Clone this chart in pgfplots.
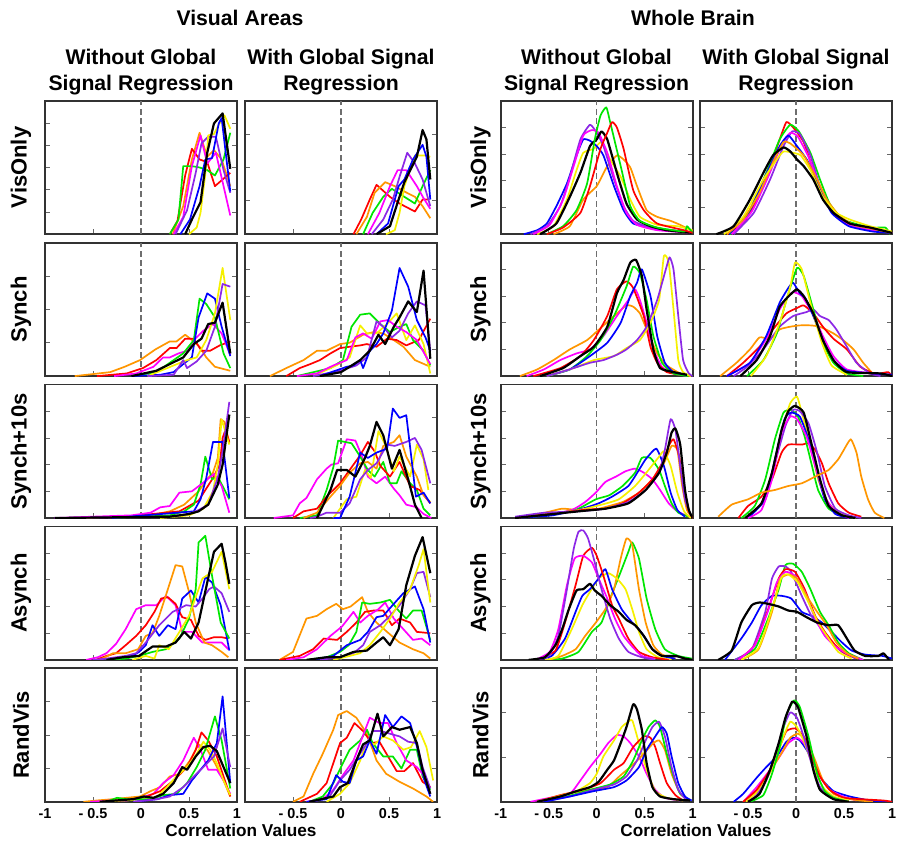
\documentclass[border=0pt]{standalone}
\usepackage{pgfplots}
\pgfplotsset{compat=1.18}
\usepackage{fontspec}
\setmainfont{Liberation Sans}
\definecolor{cR}{RGB}{255,0,0}
\definecolor{cO}{RGB}{255,150,0}
\definecolor{cY}{RGB}{245,240,0}
\definecolor{cG}{RGB}{0,230,0}
\definecolor{cB}{RGB}{0,0,255}
\definecolor{cM}{RGB}{255,0,255}
\definecolor{cP}{RGB}{140,40,230}
\definecolor{cD}{RGB}{110,110,110}
\pgfplotsset{
  panel/.style={scale only axis, width=96pt, height=66.75pt, anchor=north west,
    xmin=-1, xmax=1, ymin=0, ymax=1,
    axis line style={line width=0.9pt, draw=black!80},
    xtick={-0.5,0,0.5}, xticklabels={}, yticklabels={},
    tick align=inside, xtick pos=left, ytick pos=both,
    major tick length=2.5pt, tick style={line width=0.4pt, black!60},
    every axis plot/.append style={line width=0.85pt, line join=round, mark=none},
    execute at begin axis={\addplot[cD, dash pattern=on 3pt off 1.6pt, line width=0.65pt, sharp plot] coordinates {(0,0) (0,1)};}},
  wb/.style={every axis plot/.append style={smooth, tension=0.3}},
  bottomA/.style={xtick={-1,-0.5,0,0.5,1}, xticklabels={-1,- 0.5,0,0.5,1},
    xticklabel style={font=\fontsize{7.2}{8}\selectfont\bfseries}},
  bottomB/.style={xtick={-1,-0.5,0,0.5,1}, xticklabels={,- 0.5,0,0.5,1},
    xticklabel style={font=\fontsize{7.2}{8}\selectfont\bfseries}},
  yq/.style={ytick={0.25,0.5,0.75}},
  yf/.style={ytick={0.2,0.4,0.6,0.8}},
  ys/.style={ytick={0.1667,0.3333,0.5,0.6667,0.8333}},
  yt/.style={ytick={0.3333,0.6667}},
  K/.style={black, line width=1.1pt},
}
\begin{document}
\begin{tikzpicture}
\useasboundingbox (0pt,0pt) rectangle (449.5pt,-424pt);
\tikzset{hd/.style={font=\fontsize{10.6}{12}\selectfont\bfseries, anchor=base}}
\node[hd] at (120pt,-12.5pt) {Visual Areas};
\node[hd] at (346.5pt,-12.5pt) {Whole Brain};
\node[hd] at (70.5pt,-32.15pt) {Without Global};
\node[hd] at (70.5pt,-45.35pt) {Signal Regression};
\node[hd] at (170.5pt,-32.15pt) {With Global Signal};
\node[hd] at (170.5pt,-45.35pt) {Regression};
\node[hd] at (298.25pt,-32.15pt) {Without Global};
\node[hd] at (298.25pt,-45.35pt) {Signal Regression};
\node[hd] at (398pt,-32.15pt) {With Global Signal};
\node[hd] at (398pt,-45.35pt) {Regression};
\foreach \t/\yy in {VisOnly/83.73, Synch/154.68, Synch+10s/225.63, Asynch/296.58, RandVis/367.53}{
  \node[rotate=90, font=\fontsize{11}{13}\selectfont\bfseries] at (10.5pt,-\yy pt) {\t};
  \node[rotate=90, font=\fontsize{11}{13}\selectfont\bfseries] at (240.25pt,-\yy pt) {\t};
}
\node[font=\fontsize{8.6}{10}\selectfont\bfseries, anchor=base] at (120.5pt,-418.3pt) {Correlation Values};
\node[font=\fontsize{8.6}{10}\selectfont\bfseries, anchor=base] at (348pt,-418.3pt) {Correlation Values};

% ---------------- Row 1: VisOnly ----------------
\begin{axis}[panel, ys, at={(22.5pt,-50.35pt)}]
\addplot[cO] coordinates {(0.33,0) (0.44,0.21) (0.53,0.56) (0.61,0.76) (0.69,0.58) (0.76,0.63) (0.84,0.56) (0.93,0.36)};
\addplot[cR] coordinates {(0.30,0) (0.38,0.10) (0.46,0.44) (0.53,0.64) (0.61,0.56) (0.69,0.54) (0.77,0.36) (0.93,0.46)};
\addplot[cG] coordinates {(0.30,0) (0.39,0.11) (0.44,0.51) (0.53,0.51) (0.61,0.50) (0.69,0.48) (0.77,0.44) (0.86,0.56) (0.93,0.76)};
\addplot[cM] coordinates {(0.34,0) (0.44,0.13) (0.53,0.51) (0.62,0.74) (0.69,0.53) (0.78,0.61) (0.86,0.36) (0.93,0.14)};
\addplot[cP] coordinates {(0.36,0) (0.48,0.18) (0.57,0.46) (0.63,0.68) (0.70,0.73) (0.78,0.73) (0.86,0.48) (0.93,0.31)};
\addplot[cY] coordinates {(0.50,0) (0.58,0.05) (0.62,0.16) (0.67,0.45) (0.70,0.74) (0.76,0.75) (0.81,0.82) (0.87,0.89) (0.93,0.79)};
\addplot[cB] coordinates {(0.41,0) (0.51,0.11) (0.61,0.36) (0.67,0.56) (0.74,0.57) (0.81,0.83) (0.84,0.87) (0.93,0.32)};
\addplot[K] coordinates {(0.46,0) (0.53,0.11) (0.62,0.24) (0.69,0.61) (0.76,0.83) (0.85,0.905) (0.93,0.49)};
\end{axis}
\begin{axis}[panel, yq, at={(122.5pt,-50.35pt)}]
\addplot[cR] coordinates {(0.13,0) (0.21,0.11) (0.30,0.26) (0.37,0.37) (0.51,0.28) (0.61,0.23) (0.77,0.17) (0.85,0.26) (0.92,0.26)};
\addplot[cO] coordinates {(0.16,0) (0.27,0.13) (0.35,0.31) (0.46,0.39) (0.56,0.36) (0.66,0.32) (0.77,0.28) (0.85,0.21) (0.93,0.12)};
\addplot[cG] coordinates {(0.23,0) (0.33,0.16) (0.44,0.28) (0.53,0.34) (0.66,0.28) (0.77,0.23) (0.85,0.36) (0.93,0.48)};
\addplot[cM] coordinates {(0.28,0) (0.40,0.16) (0.51,0.36) (0.59,0.48) (0.68,0.48) (0.79,0.36) (0.86,0.27) (0.93,0.19)};
\addplot[cP] coordinates {(0.32,0) (0.44,0.11) (0.54,0.26) (0.61,0.43) (0.69,0.61) (0.77,0.53) (0.85,0.41) (0.93,0.21)};
\addplot[cY] coordinates {(0.47,0) (0.56,0.03) (0.61,0.16) (0.66,0.36) (0.77,0.59) (0.87,0.59) (0.93,0.58)};
\addplot[cB] coordinates {(0.37,0) (0.49,0.08) (0.60,0.36) (0.66,0.41) (0.75,0.56) (0.85,0.67) (0.89,0.58) (0.93,0.26)};
\addplot[K] coordinates {(0.37,0) (0.51,0.06) (0.60,0.26) (0.66,0.39) (0.79,0.58) (0.85,0.78) (0.89,0.71) (0.93,0.41)};
\end{axis}
\begin{axis}[panel, wb, yf, at={(250.35pt,-50.35pt)}]
\addplot[cO] coordinates {(-0.45,0) (-0.28,0.06) (-0.14,0.26) (0,0.36) (0.11,0.51) (0.21,0.59) (0.28,0.56) (0.35,0.50) (0.42,0.36) (0.52,0.18) (0.63,0.13) (0.77,0.10) (0.87,0.07) (0.98,0.03) (1,0.01)};
\addplot[cY] coordinates {(-0.62,0) (-0.45,0.06) (-0.31,0.26) (-0.21,0.48) (-0.14,0.61) (-0.03,0.64) (0.05,0.69) (0.14,0.56) (0.25,0.43) (0.35,0.26) (0.45,0.13) (0.63,0.07) (0.84,0.06) (1,0.03)};
\addplot[cB] coordinates {(-0.76,0) (-0.62,0.03) (-0.52,0.08) (-0.42,0.21) (-0.31,0.38) (-0.21,0.59) (-0.14,0.71) (-0.07,0.70) (0,0.66) (0.07,0.59) (0.18,0.36) (0.28,0.18) (0.38,0.08) (0.56,0.05) (0.73,0.03) (0.91,0.02) (1,0.01)};
\addplot[cP] coordinates {(-0.69,0) (-0.52,0.06) (-0.38,0.21) (-0.28,0.43) (-0.17,0.71) (-0.07,0.82) (0,0.76) (0.07,0.66) (0.18,0.41) (0.28,0.21) (0.38,0.10) (0.56,0.05) (0.91,0.02) (1,0.01)};
\addplot[cM] coordinates {(-0.66,0) (-0.49,0.07) (-0.35,0.26) (-0.24,0.51) (-0.14,0.74) (-0.05,0.78) (0.02,0.76) (0.11,0.61) (0.21,0.36) (0.31,0.16) (0.42,0.07) (0.63,0.03) (1,0.01)};
\addplot[K] coordinates {(-0.59,0) (-0.42,0.08) (-0.28,0.28) (-0.17,0.46) (-0.07,0.66) (0,0.71) (0.05,0.77) (0.11,0.71) (0.21,0.46) (0.31,0.23) (0.42,0.11) (0.56,0.06) (0.73,0.03) (1,0.01)};
\addplot[cG] coordinates {(-0.52,0) (-0.35,0.06) (-0.21,0.18) (-0.10,0.38) (-0.02,0.71) (0.04,0.89) (0.10,0.95) (0.14,0.84) (0.25,0.51) (0.35,0.21) (0.45,0.10) (0.63,0.05) (0.91,0.02) (0.94,0.06) (1,0.01)};
\addplot[cR] coordinates {(-0.52,0) (-0.35,0.05) (-0.17,0.16) (-0.07,0.36) (0.04,0.64) (0.11,0.76) (0.16,0.84) (0.21,0.80) (0.28,0.64) (0.38,0.33) (0.49,0.18) (0.63,0.08) (0.91,0.03) (1,0.01)};
\end{axis}
\begin{axis}[panel, wb, yf, at={(350pt,-50.35pt)}]
\addplot[cR] coordinates {(-0.72,0) (-0.55,0.08) (-0.41,0.26) (-0.27,0.51) (-0.17,0.71) (-0.10,0.84) (-0.03,0.80) (0.08,0.69) (0.18,0.48) (0.28,0.28) (0.39,0.16) (0.56,0.08) (0.77,0.04) (0.91,0.03) (1,0.01)};
\addplot[cG] coordinates {(-0.69,0) (-0.58,0.06) (-0.48,0.18) (-0.31,0.46) (-0.17,0.71) (-0.06,0.82) (0.03,0.77) (0.15,0.61) (0.25,0.41) (0.35,0.23) (0.49,0.11) (0.77,0.05) (0.93,0.05) (0.98,0)};
\addplot[cP] coordinates {(-0.65,0) (-0.44,0.16) (-0.27,0.41) (-0.13,0.66) (-0.04,0.77) (0.04,0.75) (0.15,0.59) (0.25,0.36) (0.39,0.17) (0.56,0.07) (0.8,0.03) (1,0.01)};
\addplot[cM] coordinates {(-0.67,0) (-0.46,0.17) (-0.29,0.43) (-0.15,0.67) (-0.06,0.76) (0.02,0.73) (0.13,0.58) (0.24,0.37) (0.37,0.17) (0.55,0.07) (0.8,0.03) (1,0.01)};
\addplot[cB] coordinates {(-0.70,0) (-0.48,0.18) (-0.31,0.45) (-0.17,0.66) (-0.08,0.74) (0.01,0.66) (0.12,0.55) (0.24,0.35) (0.37,0.16) (0.55,0.06) (0.8,0.02) (1,0.01)};
\addplot[cO] coordinates {(-0.72,0) (-0.55,0.11) (-0.38,0.31) (-0.24,0.54) (-0.13,0.69) (-0.06,0.68) (0.08,0.59) (0.22,0.41) (0.32,0.26) (0.45,0.14) (0.6,0.07) (0.8,0.04) (1,0.01)};
\addplot[cY] coordinates {(-0.75,0) (-0.55,0.13) (-0.34,0.41) (-0.20,0.56) (-0.13,0.62) (-0.03,0.61) (0.05,0.59) (0.15,0.48) (0.28,0.28) (0.42,0.16) (0.56,0.11) (0.77,0.06) (1,0.02)};
\addplot[K] coordinates {(-0.83,0) (-0.65,0.06) (-0.48,0.26) (-0.34,0.46) (-0.24,0.59) (-0.13,0.65) (-0.06,0.62) (0.01,0.56) (0.08,0.51) (0.18,0.41) (0.28,0.26) (0.39,0.16) (0.56,0.08) (0.77,0.05) (1,0.01)};
\end{axis}

% ---------------- Row 2: Synch ----------------
\begin{axis}[panel, yq, at={(22.5pt,-121.3pt)}]
\addplot[cO] coordinates {(-0.69,0) (-0.32,0.03) (-0.17,0.07) (-0.01,0.12) (0.15,0.20) (0.30,0.26) (0.37,0.26) (0.46,0.31) (0.55,0.26) (0.61,0.22) (0.68,0.14) (0.77,0.07) (0.93,0.04)};
\addplot[cR] coordinates {(-0.46,0) (-0.15,0.02) (0.02,0.06) (0.16,0.12) (0.30,0.21) (0.37,0.21) (0.46,0.28) (0.55,0.28) (0.63,0.19) (0.72,0.19) (0.82,0.23) (0.93,0.26)};
\addplot[cM] coordinates {(-0.28,0) (-0.05,0.02) (0.13,0.07) (0.23,0.14) (0.30,0.14) (0.39,0.17) (0.48,0.19) (0.55,0.27) (0.65,0.34) (0.75,0.39) (0.84,0.32) (0.93,0.16)};
\addplot[cG] coordinates {(-0.1,0) (0.16,0.03) (0.34,0.12) (0.44,0.17) (0.55,0.27) (0.61,0.58) (0.68,0.54) (0.77,0.44) (0.86,0.17) (0.93,0.06)};
\addplot[cB] coordinates {(-0.1,0) (0.20,0.01) (0.34,0.03) (0.44,0.09) (0.53,0.14) (0.60,0.44) (0.69,0.62) (0.77,0.58) (0.84,0.37) (0.93,0.15)};
\addplot[cY] coordinates {(0.07,0) (0.34,0.08) (0.48,0.12) (0.58,0.14) (0.68,0.27) (0.77,0.47) (0.85,0.81) (0.93,0.42)};
\addplot[cP] coordinates {(0.07,0) (0.34,0.01) (0.44,0.12) (0.48,0.06) (0.58,0.11) (0.68,0.19) (0.77,0.37) (0.85,0.69) (0.93,0.67)};
\addplot[K] coordinates {(-0.1,0) (0.16,0.04) (0.30,0.09) (0.44,0.14) (0.55,0.24) (0.63,0.28) (0.70,0.39) (0.77,0.40) (0.85,0.55) (0.93,0.17)};
\end{axis}
\begin{axis}[panel, yf, at={(122.5pt,-121.3pt)}]
\addplot[cO] coordinates {(-0.74,0) (-0.57,0.06) (-0.39,0.12) (-0.25,0.19) (-0.15,0.19) (-0.01,0.24) (0.09,0.25) (0.23,0.31) (0.34,0.33) (0.44,0.32) (0.55,0.27) (0.65,0.22) (0.77,0.12) (0.93,0.07)};
\addplot[cR] coordinates {(-0.57,0) (-0.43,0.06) (-0.32,0.09) (-0.22,0.12) (-0.11,0.17) (-0.01,0.21) (0.09,0.22) (0.20,0.23) (0.27,0.24) (0.37,0.22) (0.48,0.28) (0.58,0.27) (0.68,0.23) (0.81,0.27) (0.93,0.43)};
\addplot[cG] coordinates {(-0.46,0) (-0.11,0.06) (0.02,0.12) (0.11,0.37) (0.20,0.46) (0.30,0.47) (0.41,0.39) (0.51,0.33) (0.61,0.37) (0.68,0.39) (0.75,0.27) (0.86,0.19) (0.93,0.08)};
\addplot[cY] coordinates {(-0.29,0) (-0.05,0.08) (0.09,0.14) (0.20,0.38) (0.27,0.32) (0.37,0.32) (0.48,0.39) (0.58,0.47) (0.68,0.27) (0.77,0.38) (0.86,0.24) (0.93,0.02)};
\addplot[cM] coordinates {(-0.46,0) (-0.25,0.02) (-0.08,0.08) (0.06,0.12) (0.15,0.29) (0.23,0.32) (0.32,0.28) (0.41,0.41) (0.49,0.42) (0.58,0.37) (0.68,0.33) (0.79,0.27) (0.93,0.09)};
\addplot[cP] coordinates {(-0.29,0) (-0.01,0.04) (0.16,0.08) (0.27,0.14) (0.37,0.41) (0.44,0.37) (0.53,0.29) (0.61,0.34) (0.70,0.47) (0.79,0.56) (0.88,0.53) (0.93,0.19)};
\addplot[cB] coordinates {(-0.22,0) (0.06,0.07) (0.13,0.08) (0.20,0.12) (0.23,0.06) (0.30,0.19) (0.37,0.24) (0.44,0.32) (0.53,0.49) (0.61,0.81) (0.70,0.67) (0.79,0.42) (0.88,0.29) (0.93,0.19)};
\addplot[K] coordinates {(-0.22,0) (0,0.03) (0.09,0.07) (0.20,0.12) (0.30,0.19) (0.39,0.31) (0.46,0.24) (0.55,0.37) (0.61,0.44) (0.70,0.56) (0.79,0.48) (0.86,0.79) (0.93,0.13)};
\end{axis}
\begin{axis}[panel, wb, yf, at={(250.35pt,-121.3pt)}]
\addplot[cO] coordinates {(-0.80,0) (-0.62,0.05) (-0.45,0.12) (-0.28,0.20) (-0.10,0.27) (0.04,0.36) (0.18,0.45) (0.31,0.53) (0.38,0.52) (0.45,0.47) (0.52,0.35) (0.63,0.17) (0.73,0.08) (0.87,0.02) (0.98,0)};
\addplot[cM] coordinates {(-0.73,0) (-0.55,0.05) (-0.38,0.12) (-0.21,0.17) (-0.07,0.20) (0.07,0.30) (0.21,0.45) (0.33,0.57) (0.40,0.65) (0.45,0.57) (0.52,0.40) (0.59,0.20) (0.68,0.07) (0.80,0.02) (0.95,0)};
\addplot[cR] coordinates {(-0.66,0) (-0.38,0.06) (-0.17,0.15) (-0.03,0.27) (0.11,0.45) (0.21,0.65) (0.31,0.71) (0.38,0.66) (0.49,0.45) (0.56,0.22) (0.63,0.10) (0.73,0.03) (0.87,0.01)};
\addplot[cG] coordinates {(-0.52,0) (-0.28,0.05) (-0.10,0.15) (0.04,0.27) (0.18,0.45) (0.31,0.67) (0.38,0.82) (0.45,0.77) (0.52,0.57) (0.59,0.30) (0.68,0.10) (0.80,0.02) (0.95,0)};
\addplot[cB] coordinates {(-0.52,0) (-0.28,0.05) (-0.07,0.15) (0.11,0.25) (0.25,0.40) (0.35,0.60) (0.42,0.70) (0.47,0.80) (0.56,0.60) (0.63,0.30) (0.71,0.10) (0.80,0.03) (0.94,0.01)};
\addplot[cY] coordinates {(-0.52,0) (-0.24,0.06) (-0.03,0.12) (0.18,0.15) (0.31,0.21) (0.45,0.27) (0.56,0.40) (0.65,0.57) (0.70,0.90) (0.75,0.85) (0.80,0.50) (0.85,0.12) (0.90,0.03) (0.98,0)};
\addplot[cP] coordinates {(-0.52,0) (-0.24,0.06) (-0.07,0.10) (0.07,0.12) (0.21,0.16) (0.31,0.20) (0.42,0.27) (0.52,0.37) (0.63,0.57) (0.72,0.80) (0.76,0.89) (0.80,0.80) (0.85,0.45) (0.90,0.12) (0.96,0.02) (1,0)};
\addplot[K] coordinates {(-0.59,0) (-0.35,0.06) (-0.17,0.15) (-0.03,0.22) (0.11,0.37) (0.21,0.62) (0.28,0.72) (0.35,0.85) (0.41,0.87) (0.47,0.75) (0.52,0.50) (0.59,0.20) (0.66,0.06) (0.80,0.03) (0.94,0.01)};
\end{axis}
\begin{axis}[panel, wb, yf, at={(350pt,-121.3pt)}]
\addplot[cO] coordinates {(-0.79,0) (-0.62,0.10) (-0.48,0.20) (-0.38,0.29) (-0.27,0.28) (-0.17,0.35) (-0.06,0.37) (0.04,0.38) (0.15,0.38) (0.25,0.37) (0.39,0.32) (0.49,0.27) (0.60,0.20) (0.70,0.10) (0.81,0.01)};
\addplot[cR] coordinates {(-0.72,0) (-0.55,0.10) (-0.38,0.22) (-0.24,0.35) (-0.10,0.47) (0.01,0.51) (0.08,0.53) (0.18,0.47) (0.28,0.37) (0.39,0.28) (0.53,0.20) (0.67,0.07) (0.81,0.02) (0.88,0.02) (0.96,0.03) (1,0)};
\addplot[cP] coordinates {(-0.65,0) (-0.51,0.07) (-0.34,0.20) (-0.17,0.37) (-0.03,0.45) (0.11,0.48) (0.18,0.50) (0.25,0.45) (0.34,0.42) (0.42,0.35) (0.53,0.22) (0.63,0.10) (0.77,0.02) (0.88,0)};
\addplot[cM] coordinates {(-0.72,0) (-0.48,0.10) (-0.31,0.28) (-0.17,0.50) (-0.08,0.60) (-0.03,0.63) (0.06,0.60) (0.18,0.46) (0.28,0.30) (0.39,0.15) (0.53,0.05) (0.8,0.02) (1,0.01)};
\addplot[cB] coordinates {(-0.72,0) (-0.48,0.10) (-0.31,0.30) (-0.17,0.55) (-0.08,0.66) (-0.03,0.70) (0.04,0.62) (0.10,0.58) (0.18,0.45) (0.28,0.27) (0.39,0.12) (0.53,0.04) (0.8,0.02) (1,0.01)};
\addplot[cG] coordinates {(-0.51,0) (-0.34,0.12) (-0.20,0.32) (-0.10,0.57) (0.01,0.81) (0.08,0.75) (0.18,0.50) (0.28,0.25) (0.39,0.10) (0.53,0.02) (0.7,0)};
\addplot[cY] coordinates {(-0.47,0) (-0.31,0.15) (-0.17,0.40) (-0.06,0.67) (-0.01,0.85) (0.06,0.80) (0.16,0.52) (0.27,0.25) (0.37,0.08) (0.53,0.01)};
\addplot[K] coordinates {(-0.58,0) (-0.41,0.12) (-0.27,0.30) (-0.17,0.52) (-0.06,0.61) (0.01,0.65) (0.08,0.60) (0.18,0.47) (0.28,0.27) (0.39,0.12) (0.53,0.03) (0.88,0.02) (1,0)};
\end{axis}

% ---------------- Row 3: Synch+10s ----------------
\begin{axis}[panel, yf, at={(22.5pt,-192.25pt)}]
\addplot[cO] coordinates {(-0.6,0) (0.1,0.02) (0.3,0.05) (0.45,0.10) (0.6,0.20) (0.7,0.30) (0.75,0.34) (0.80,0.45) (0.83,0.74) (0.87,0.72) (0.92,0.56)};
\addplot[cR] coordinates {(-0.3,0) (0.4,0.05) (0.6,0.13) (0.75,0.30) (0.82,0.40) (0.85,0.60) (0.88,0.66) (0.92,0.57)};
\addplot[cG] coordinates {(-0.3,0) (0.3,0.02) (0.45,0.05) (0.55,0.10) (0.62,0.25) (0.67,0.46) (0.74,0.29) (0.80,0.31) (0.92,0.14)};
\addplot[cM] coordinates {(-0.9,0) (-0.1,0.02) (0.1,0.04) (0.2,0.08) (0.3,0.09) (0.40,0.19) (0.53,0.20) (0.64,0.26) (0.76,0.33) (0.84,0.24) (0.92,0.04)};
\addplot[cY] coordinates {(0.2,0) (0.5,0.02) (0.65,0.07) (0.75,0.20) (0.80,0.40) (0.84,0.74) (0.92,0.55)};
\addplot[cB] coordinates {(-0.3,0) (0.55,0.05) (0.62,0.14) (0.68,0.30) (0.75,0.57) (0.85,0.57) (0.92,0.15)};
\addplot[cP] coordinates {(-0.9,0) (0.3,0.01) (0.5,0.03) (0.6,0.06) (0.7,0.10) (0.75,0.2) (0.8,0.3) (0.85,0.5) (0.92,0.87)};
\addplot[K] coordinates {(-0.9,0) (0.3,0.01) (0.5,0.03) (0.6,0.05) (0.7,0.10) (0.8,0.25) (0.85,0.4) (0.92,0.775)};
\end{axis}
\begin{axis}[panel, yq, at={(122.5pt,-192.25pt)}]
\addplot[cM] coordinates {(-0.70,0) (-0.50,0.02) (-0.43,0.11) (-0.36,0.15) (-0.25,0.29) (-0.15,0.37) (-0.10,0.40) (-0.03,0.41) (0.06,0.59) (0.15,0.58) (0.22,0.46) (0.28,0.31) (0.37,0.26) (0.46,0.31) (0.55,0.22) (0.61,0.17) (0.68,0.10) (0.79,0.08) (0.86,0.03) (0.94,0)};
\addplot[cG] coordinates {(-0.43,0) (-0.25,0.02) (-0.15,0.21) (-0.08,0.38) (-0.03,0.58) (0.04,0.57) (0.11,0.56) (0.20,0.46) (0.28,0.36) (0.35,0.31) (0.44,0.42) (0.51,0.26) (0.58,0.26) (0.63,0.35) (0.72,0.26) (0.79,0.21) (0.86,0.07) (0.93,0.02)};
\addplot[cR] coordinates {(-0.50,0) (-0.39,0.05) (-0.25,0.07) (-0.15,0.16) (-0.01,0.26) (0.09,0.36) (0.20,0.47) (0.28,0.57) (0.35,0.50) (0.41,0.39) (0.51,0.31) (0.61,0.42) (0.72,0.24) (0.82,0.21) (0.93,0.11)};
\addplot[cO] coordinates {(-0.39,0) (-0.25,0.04) (-0.11,0.16) (-0.01,0.24) (0.09,0.34) (0.20,0.41) (0.28,0.42) (0.37,0.37) (0.44,0.54) (0.55,0.57) (0.61,0.62) (0.68,0.46) (0.79,0.31) (0.86,0.17) (0.93,0.12)};
\addplot[cY] coordinates {(-0.08,0) (0.06,0.14) (0.16,0.16) (0.25,0.36) (0.31,0.30) (0.39,0.65) (0.46,0.55) (0.55,0.35) (0.61,0.46) (0.72,0.31) (0.79,0.55) (0.86,0.44) (0.91,0.21)};
\addplot[cP] coordinates {(-0.32,0) (-0.25,0.01) (-0.15,0.04) (-0.01,0.04) (0.09,0.11) (0.20,0.29) (0.28,0.36) (0.37,0.41) (0.48,0.55) (0.56,0.54) (0.68,0.57) (0.77,0.60) (0.84,0.51) (0.93,0.26)};
\addplot[cB] coordinates {(-0.08,0) (-0.01,0) (0.09,0.16) (0.20,0.49) (0.28,0.45) (0.37,0.49) (0.48,0.52) (0.54,0.82) (0.61,0.75) (0.68,0.77) (0.74,0.41) (0.78,0.16) (0.86,0.19) (0.93,0.11)};
\addplot[K] coordinates {(-0.25,0) (-0.11,0.21) (-0.04,0.36) (0.06,0.36) (0.15,0.31) (0.25,0.45) (0.30,0.54) (0.37,0.72) (0.44,0.62) (0.53,0.37) (0.61,0.51) (0.70,0.29) (0.77,0.10) (0.84,0)};
\end{axis}
\begin{axis}[panel, wb, yf, at={(250.35pt,-192.25pt)}]
\addplot[cO] coordinates {(-0.85,0) (-0.54,0.04) (-0.36,0.07) (-0.19,0.06) (0.02,0.07) (0.27,0.12) (0.44,0.19) (0.58,0.29) (0.70,0.41) (0.78,0.54) (0.84,0.51) (0.89,0.24) (0.94,0.06) (1,0)};
\addplot[cM] coordinates {(-0.85,0) (-0.54,0.02) (-0.26,0.06) (-0.12,0.12) (-0.01,0.19) (0.09,0.27) (0.20,0.31) (0.30,0.35) (0.40,0.37) (0.49,0.34) (0.58,0.29) (0.66,0.21) (0.75,0.11) (0.84,0.05) (0.96,0.01)};
\addplot[cG] coordinates {(-0.85,0) (-0.50,0.02) (-0.22,0.06) (-0.01,0.14) (0.13,0.17) (0.27,0.24) (0.40,0.34) (0.47,0.45) (0.56,0.45) (0.65,0.36) (0.71,0.24) (0.78,0.11) (0.85,0.04) (0.96,0.01)};
\addplot[cB] coordinates {(-0.85,0) (-0.46,0.02) (-0.15,0.07) (0.02,0.11) (0.16,0.16) (0.33,0.24) (0.44,0.36) (0.51,0.44) (0.62,0.52) (0.70,0.39) (0.77,0.19) (0.84,0.06) (0.92,0.01)};
\addplot[cY] coordinates {(-0.85,0) (-0.19,0.06) (0.05,0.10) (0.23,0.14) (0.40,0.24) (0.54,0.36) (0.65,0.46) (0.70,0.50) (0.77,0.39) (0.84,0.19) (0.91,0.05) (0.98,0)};
\addplot[cR] coordinates {(-0.85,0) (-0.15,0.06) (0.09,0.07) (0.27,0.11) (0.44,0.19) (0.58,0.29) (0.68,0.41) (0.75,0.54) (0.80,0.59) (0.86,0.46) (0.91,0.19) (0.96,0.05) (1,0)};
\addplot[cP] coordinates {(-0.85,0.01) (-0.54,0.04) (-0.19,0.05) (0.09,0.07) (0.33,0.12) (0.51,0.21) (0.65,0.34) (0.71,0.51) (0.77,0.74) (0.82,0.66) (0.87,0.39) (0.92,0.14) (0.98,0.02)};
\addplot[K] coordinates {(-0.85,0) (-0.19,0.05) (0.09,0.07) (0.33,0.11) (0.51,0.21) (0.65,0.34) (0.73,0.49) (0.78,0.64) (0.82,0.67) (0.87,0.55) (0.92,0.21) (0.96,0.06) (1,0)};
\end{axis}
\begin{axis}[panel, wb, yf, at={(350pt,-192.25pt)}]
\addplot[cR] coordinates {(-0.60,0) (-0.50,0.09) (-0.36,0.16) (-0.25,0.29) (-0.15,0.49) (-0.08,0.55) (0.06,0.55) (0.13,0.56) (0.20,0.51) (0.27,0.41) (0.34,0.26) (0.44,0.11) (0.55,0.04) (0.68,0.01)};
\addplot[cG] coordinates {(-0.57,0) (-0.43,0.09) (-0.32,0.29) (-0.22,0.59) (-0.13,0.79) (-0.05,0.81) (0.02,0.76) (0.09,0.61) (0.16,0.41) (0.23,0.21) (0.34,0.07) (0.48,0.02) (0.62,0)};
\addplot[cY] coordinates {(-0.53,0) (-0.36,0.11) (-0.25,0.34) (-0.15,0.66) (-0.06,0.86) (0.01,0.91) (0.06,0.79) (0.15,0.54) (0.23,0.29) (0.34,0.11) (0.48,0.03) (0.62,0)};
\addplot[cP] coordinates {(-0.50,0) (-0.32,0.14) (-0.22,0.41) (-0.11,0.69) (-0.03,0.81) (0.04,0.80) (0.13,0.71) (0.22,0.49) (0.30,0.24) (0.41,0.07) (0.55,0.02) (0.68,0)};
\addplot[cB] coordinates {(-0.50,0) (-0.32,0.14) (-0.22,0.44) (-0.12,0.74) (-0.05,0.79) (0.04,0.76) (0.13,0.59) (0.22,0.34) (0.30,0.14) (0.41,0.03) (0.55,0)};
\addplot[cM] coordinates {(-0.50,0) (-0.36,0.06) (-0.25,0.29) (-0.15,0.64) (-0.06,0.76) (0.01,0.74) (0.11,0.61) (0.20,0.39) (0.30,0.16) (0.41,0.05) (0.55,0)};
\addplot[K] coordinates {(-0.53,0) (-0.36,0.11) (-0.25,0.34) (-0.15,0.66) (-0.08,0.80) (-0.01,0.84) (0.08,0.79) (0.16,0.56) (0.25,0.29) (0.34,0.09) (0.48,0.02) (0.62,0)};
\addplot[cO] coordinates {(-0.81,0.01) (-0.67,0.10) (-0.50,0.14) (-0.36,0.19) (-0.22,0.21) (-0.08,0.24) (0.06,0.26) (0.20,0.31) (0.34,0.36) (0.44,0.44) (0.49,0.50) (0.57,0.59) (0.63,0.49) (0.68,0.31) (0.75,0.14) (0.82,0.04) (0.92,0)};
\end{axis}

% ---------------- Row 4: Asynch ----------------
\begin{axis}[panel, yf, at={(22.5pt,-263.2pt)}]
\addplot[cM] coordinates {(-0.57,0) (-0.45,0.02) (-0.36,0.05) (-0.26,0.12) (-0.16,0.23) (-0.05,0.38) (0.05,0.41) (0.16,0.41) (0.26,0.48) (0.36,0.41) (0.43,0.21) (0.53,0.21) (0.64,0.13) (0.74,0.13) (0.84,0.13) (0.91,0.08)};
\addplot[cR] coordinates {(-0.47,0) (-0.36,0.03) (-0.26,0.05) (-0.16,0.11) (-0.05,0.18) (0.05,0.26) (0.14,0.36) (0.21,0.46) (0.28,0.47) (0.36,0.42) (0.43,0.32) (0.52,0.30) (0.60,0.18) (0.67,0.15) (0.76,0.17) (0.84,0.17) (0.91,0.16)};
\addplot[cO] coordinates {(-0.43,0) (-0.29,0.05) (-0.16,0.05) (-0.03,0.08) (0.05,0.18) (0.12,0.20) (0.19,0.33) (0.28,0.53) (0.36,0.71) (0.43,0.70) (0.50,0.51) (0.57,0.28) (0.66,0.13) (0.74,0.11) (0.84,0.06) (0.91,0.02)};
\addplot[cB] coordinates {(-0.36,0) (-0.22,0.01) (-0.09,0.03) (-0.02,0.06) (0.05,0.11) (0.12,0.26) (0.19,0.18) (0.28,0.26) (0.36,0.23) (0.43,0.46) (0.52,0.52) (0.60,0.43) (0.67,0.62) (0.74,0.58) (0.83,0.41) (0.92,0.07)};
\addplot[cP] coordinates {(-0.50,0) (-0.36,0.01) (-0.16,0.03) (-0.05,0.05) (0.05,0.13) (0.19,0.26) (0.33,0.36) (0.47,0.41) (0.57,0.40) (0.64,0.46) (0.71,0.53) (0.76,0.55) (0.84,0.50) (0.92,0.36)};
\addplot[cG] coordinates {(-0.36,0) (-0.16,0.01) (-0.02,0.03) (0.12,0.06) (0.26,0.08) (0.40,0.16) (0.50,0.31) (0.57,0.53) (0.60,0.88) (0.67,0.93) (0.74,0.63) (0.83,0.28) (0.92,0.16)};
\addplot[cY] coordinates {(-0.09,0) (0.05,0.03) (0.14,0.01) (0.19,0.11) (0.29,0.08) (0.40,0.21) (0.50,0.33) (0.64,0.61) (0.74,0.66) (0.84,0.81) (0.92,0.53)};
\addplot[K] coordinates {(-0.36,0) (-0.19,0.02) (-0.02,0.03) (0.12,0.10) (0.26,0.10) (0.36,0.13) (0.45,0.21) (0.52,0.16) (0.60,0.28) (0.69,0.58) (0.76,0.81) (0.84,0.87) (0.88,0.73) (0.92,0.57)};
\end{axis}
\begin{axis}[panel, yf, at={(122.5pt,-263.2pt)}]
\addplot[cO] coordinates {(-0.64,0) (-0.50,0.06) (-0.36,0.31) (-0.25,0.33) (-0.15,0.38) (-0.05,0.42) (0.02,0.38) (0.10,0.40) (0.22,0.47) (0.28,0.36) (0.37,0.28) (0.48,0.21) (0.61,0.13) (0.75,0.08) (0.86,0.05) (0.93,0.01)};
\addplot[cR] coordinates {(-0.64,0) (-0.43,0.03) (-0.29,0.08) (-0.18,0.16) (-0.04,0.15) (0.06,0.21) (0.16,0.28) (0.25,0.36) (0.34,0.37) (0.44,0.37) (0.53,0.26) (0.61,0.31) (0.72,0.28) (0.79,0.21) (0.93,0.20)};
\addplot[cM] coordinates {(-0.57,0) (-0.39,0.02) (-0.25,0.08) (-0.11,0.18) (0.01,0.25) (0.13,0.36) (0.20,0.28) (0.28,0.33) (0.39,0.38) (0.46,0.43) (0.55,0.31) (0.65,0.23) (0.75,0.15) (0.84,0.16) (0.93,0.11)};
\addplot[cG] coordinates {(-0.36,0) (-0.15,0.02) (-0.01,0.06) (0.08,0.11) (0.16,0.21) (0.22,0.43) (0.30,0.42) (0.41,0.43) (0.51,0.45) (0.61,0.36) (0.68,0.31) (0.75,0.37) (0.84,0.37) (0.93,0.15)};
\addplot[cB] coordinates {(-0.29,0) (-0.08,0.03) (0.06,0.11) (0.20,0.15) (0.28,0.21) (0.37,0.32) (0.44,0.33) (0.55,0.42) (0.65,0.50) (0.77,0.55) (0.86,0.38) (0.93,0.13)};
\addplot[cP] coordinates {(-0.22,0) (-0.01,0.02) (0.13,0.05) (0.23,0.11) (0.30,0.21) (0.41,0.26) (0.51,0.33) (0.61,0.41) (0.72,0.53) (0.79,0.65) (0.86,0.66) (0.93,0.47)};
\addplot[cY] coordinates {(-0.08,0) (0.09,0.03) (0.20,0.05) (0.30,0.11) (0.41,0.21) (0.51,0.31) (0.61,0.43) (0.72,0.53) (0.81,0.71) (0.86,0.83) (0.93,0.43)};
\addplot[K] coordinates {(-0.36,0) (-0.15,0.02) (-0.01,0.02) (0.13,0.06) (0.27,0.07) (0.37,0.13) (0.44,0.17) (0.51,0.11) (0.60,0.23) (0.68,0.56) (0.77,0.78) (0.85,0.92) (0.93,0.65)};
\end{axis}
\begin{axis}[panel, wb, yf, at={(250.35pt,-263.2pt)}]
\addplot[cG] coordinates {(-0.50,0) (-0.36,0.01) (-0.19,0.06) (-0.05,0.21) (0.05,0.28) (0.14,0.46) (0.25,0.66) (0.33,0.81) (0.37,0.88) (0.44,0.76) (0.52,0.46) (0.61,0.23) (0.71,0.08) (0.85,0.03) (0.99,0.01)};
\addplot[cO] coordinates {(-0.50,0) (-0.36,0.03) (-0.22,0.08) (-0.12,0.18) (-0.02,0.27) (0.09,0.38) (0.18,0.53) (0.25,0.76) (0.31,0.91) (0.37,0.86) (0.44,0.53) (0.51,0.28) (0.59,0.11) (0.68,0.04) (0.82,0.01)};
\addplot[cY] coordinates {(-0.54,0) (-0.40,0.03) (-0.26,0.23) (-0.15,0.41) (-0.07,0.51) (0.02,0.61) (0.12,0.65) (0.21,0.61) (0.30,0.53) (0.37,0.38) (0.44,0.21) (0.52,0.08) (0.64,0.02) (0.78,0)};
\addplot[cB] coordinates {(-0.64,0) (-0.47,0.03) (-0.33,0.16) (-0.22,0.36) (-0.15,0.48) (-0.07,0.53) (0.02,0.61) (0.09,0.68) (0.16,0.53) (0.26,0.38) (0.37,0.28) (0.44,0.23) (0.51,0.16) (0.58,0.08) (0.68,0.03) (0.82,0.01)};
\addplot[cR] coordinates {(-0.61,0) (-0.43,0.07) (-0.33,0.28) (-0.22,0.56) (-0.14,0.78) (-0.05,0.84) (0,0.78) (0.07,0.63) (0.16,0.41) (0.23,0.31) (0.33,0.16) (0.44,0.06) (0.58,0.02) (0.75,0)};
\addplot[cM] coordinates {(-0.64,0) (-0.49,0.06) (-0.40,0.23) (-0.31,0.56) (-0.23,0.76) (-0.14,0.78) (-0.05,0.73) (0.02,0.61) (0.11,0.46) (0.19,0.31) (0.28,0.18) (0.37,0.10) (0.47,0.03) (0.6,0.01)};
\addplot[cP] coordinates {(-0.64,0) (-0.50,0.03) (-0.40,0.18) (-0.31,0.53) (-0.24,0.83) (-0.19,0.96) (-0.14,0.97) (-0.09,0.91) (-0.02,0.73) (0.05,0.53) (0.14,0.31) (0.23,0.16) (0.33,0.06) (0.47,0.02) (0.61,0)};
\addplot[K] coordinates {(-0.71,0) (-0.54,0.02) (-0.43,0.11) (-0.36,0.23) (-0.29,0.38) (-0.21,0.52) (-0.14,0.53) (-0.07,0.57) (-0.02,0.52) (0.05,0.48) (0.14,0.41) (0.23,0.36) (0.31,0.30) (0.40,0.26) (0.49,0.18) (0.58,0.08) (0.68,0.03) (0.82,0.03) (0.92,0.01) (1,0)};
\end{axis}
\begin{axis}[panel, wb, yf, at={(350pt,-263.2pt)}]
\addplot[cB] coordinates {(-0.74,0) (-0.57,0.16) (-0.46,0.28) (-0.36,0.41) (-0.25,0.48) (-0.15,0.48) (-0.05,0.46) (0.06,0.36) (0.16,0.33) (0.27,0.28) (0.37,0.21) (0.48,0.13) (0.58,0.07) (0.72,0.04) (0.90,0.03) (1,0.01)};
\addplot[cG] coordinates {(-0.64,0) (-0.43,0.08) (-0.29,0.31) (-0.18,0.53) (-0.11,0.71) (-0.03,0.72) (0.06,0.66) (0.15,0.53) (0.25,0.36) (0.34,0.26) (0.44,0.13) (0.55,0.05) (0.70,0)};
\addplot[cP] coordinates {(-0.64,0) (-0.46,0.08) (-0.32,0.36) (-0.25,0.61) (-0.18,0.70) (-0.11,0.70) (-0.05,0.66) (0.06,0.48) (0.16,0.33) (0.27,0.23) (0.37,0.13) (0.48,0.06) (0.62,0.01)};
\addplot[cR] coordinates {(-0.60,0) (-0.43,0.11) (-0.29,0.38) (-0.18,0.61) (-0.11,0.68) (-0.01,0.66) (0.09,0.53) (0.20,0.33) (0.30,0.21) (0.41,0.11) (0.51,0.05) (0.65,0.01)};
\addplot[cM] coordinates {(-0.60,0) (-0.43,0.11) (-0.29,0.37) (-0.20,0.58) (-0.11,0.66) (-0.01,0.63) (0.09,0.51) (0.20,0.31) (0.30,0.18) (0.41,0.10) (0.55,0.04) (0.7,0)};
\addplot[cO] coordinates {(-0.57,0) (-0.39,0.08) (-0.25,0.36) (-0.17,0.60) (-0.08,0.64) (0.01,0.61) (0.11,0.48) (0.22,0.36) (0.32,0.26) (0.42,0.13) (0.53,0.05) (0.65,0.01)};
\addplot[cY] coordinates {(-0.57,0) (-0.39,0.09) (-0.25,0.38) (-0.15,0.62) (-0.08,0.64) (0.02,0.58) (0.13,0.43) (0.23,0.28) (0.34,0.16) (0.44,0.06) (0.58,0.01)};
\addplot[K] coordinates {(-0.81,0) (-0.67,0.07) (-0.57,0.28) (-0.46,0.41) (-0.38,0.43) (-0.29,0.42) (-0.18,0.40) (-0.08,0.37) (0.01,0.36) (0.11,0.32) (0.22,0.28) (0.34,0.26) (0.44,0.26) (0.53,0.16) (0.61,0.07) (0.72,0.03) (0.86,0.03) (0.91,0.05) (0.97,0)};
\end{axis}

% ---------------- Row 5: RandVis ----------------
\begin{axis}[panel, yq, bottomA, at={(22.5pt,-334.15pt)}]
\addplot[cO] coordinates {(-0.60,0) (-0.46,0.01) (-0.29,0.02) (-0.15,0.03) (-0.01,0.04) (0.10,0.08) (0.20,0.11) (0.30,0.19) (0.41,0.21) (0.51,0.31) (0.60,0.43) (0.69,0.39) (0.77,0.29) (0.86,0.16) (0.93,0.04)};
\addplot[cM] coordinates {(-0.53,0) (-0.32,0.01) (-0.15,0.01) (-0.01,0.03) (0.13,0.06) (0.23,0.14) (0.34,0.20) (0.44,0.31) (0.55,0.48) (0.62,0.39) (0.70,0.24) (0.79,0.24) (0.86,0.16) (0.93,0.06)};
\addplot[cR] coordinates {(-0.43,0) (-0.08,0.02) (0.06,0.04) (0.20,0.08) (0.34,0.16) (0.48,0.26) (0.57,0.39) (0.63,0.52) (0.70,0.46) (0.79,0.34) (0.86,0.19) (0.93,0.04)};
\addplot[cY] coordinates {(-0.43,0) (0.06,0.02) (0.17,0.04) (0.27,0.11) (0.37,0.19) (0.48,0.26) (0.58,0.36) (0.65,0.45) (0.72,0.39) (0.79,0.29) (0.86,0.16) (0.93,0.05)};
\addplot[cG] coordinates {(-0.36,0) (-0.25,0.03) (-0.15,0.02) (0.10,0.02) (0.23,0.05) (0.37,0.06) (0.48,0.14) (0.58,0.26) (0.67,0.39) (0.77,0.64) (0.84,0.46) (0.93,0.10)};
\addplot[cB] coordinates {(-0.08,0) (0.17,0.02) (0.30,0.05) (0.44,0.06) (0.53,0.16) (0.62,0.24) (0.70,0.31) (0.79,0.44) (0.85,0.79) (0.93,0.14)};
\addplot[cP] coordinates {(-0.08,0) (0.17,0.02) (0.30,0.04) (0.44,0.11) (0.55,0.19) (0.65,0.26) (0.76,0.34) (0.85,0.55) (0.93,0.26)};
\addplot[K] coordinates {(-0.43,0) (-0.08,0.02) (0.03,0.04) (0.13,0.03) (0.23,0.06) (0.34,0.14) (0.43,0.26) (0.48,0.24) (0.57,0.34) (0.65,0.41) (0.72,0.42) (0.79,0.38) (0.86,0.26) (0.93,0.14)};
\end{axis}
\begin{axis}[panel, yq, bottomB, at={(122.5pt,-334.15pt)}]
\addplot[cO] coordinates {(-0.50,0) (-0.39,0.04) (-0.29,0.21) (-0.19,0.36) (-0.08,0.54) (-0.03,0.65) (0.06,0.68) (0.16,0.63) (0.27,0.51) (0.37,0.31) (0.47,0.21) (0.61,0.15) (0.75,0.10) (0.89,0.04) (0.96,0)};
\addplot[cR] coordinates {(-0.43,0) (-0.25,0.06) (-0.15,0.14) (-0.08,0.29) (-0.01,0.44) (0.06,0.48) (0.14,0.59) (0.23,0.53) (0.32,0.44) (0.40,0.45) (0.49,0.34) (0.58,0.23) (0.66,0.23) (0.75,0.29) (0.85,0.15) (0.93,0.11)};
\addplot[cG] coordinates {(-0.33,0) (-0.19,0.04) (-0.08,0.14) (0.02,0.29) (0.09,0.39) (0.20,0.46) (0.27,0.54) (0.33,0.44) (0.44,0.34) (0.54,0.34) (0.63,0.25) (0.72,0.39) (0.79,0.39) (0.85,0.19) (0.93,0.09)};
\addplot[cM] coordinates {(-0.36,0) (-0.19,0.02) (-0.08,0.09) (0.02,0.20) (0.13,0.31) (0.21,0.46) (0.30,0.63) (0.40,0.59) (0.49,0.59) (0.58,0.44) (0.68,0.31) (0.79,0.26) (0.85,0.21) (0.93,0.06)};
\addplot[cY] coordinates {(-0.15,0) (-0.01,0.06) (0.09,0.14) (0.20,0.31) (0.27,0.45) (0.35,0.43) (0.44,0.49) (0.54,0.46) (0.65,0.39) (0.73,0.41) (0.82,0.53) (0.89,0.41) (0.96,0.16)};
\addplot[cP] coordinates {(-0.29,0) (-0.12,0.04) (-0.01,0.16) (0.09,0.24) (0.18,0.34) (0.27,0.44) (0.33,0.53) (0.42,0.53) (0.51,0.51) (0.61,0.49) (0.70,0.45) (0.79,0.44) (0.85,0.26) (0.93,0.10)};
\addplot[cB] coordinates {(-0.36,0) (-0.15,0.02) (-0.05,0.20) (0.02,0.15) (0.09,0.14) (0.16,0.31) (0.23,0.34) (0.30,0.46) (0.37,0.36) (0.46,0.65) (0.54,0.56) (0.63,0.64) (0.72,0.59) (0.80,0.39) (0.87,0.16) (0.93,0.04)};
\addplot[K] coordinates {(-0.33,0) (-0.08,0.04) (-0.01,0.11) (0.07,0.14) (0.16,0.31) (0.23,0.43) (0.30,0.46) (0.38,0.66) (0.44,0.49) (0.53,0.56) (0.61,0.54) (0.72,0.56) (0.79,0.44) (0.85,0.24) (0.93,0.06)};
\end{axis}
\begin{axis}[panel, wb, yt, bottomA, at={(250.35pt,-334.15pt)}]
\addplot[cM] coordinates {(-0.69,0) (-0.49,0.03) (-0.28,0.06) (-0.17,0.16) (-0.07,0.26) (0.04,0.36) (0.12,0.44) (0.21,0.50) (0.28,0.49) (0.35,0.44) (0.44,0.34) (0.52,0.21) (0.61,0.09) (0.71,0.03) (0.87,0.01)};
\addplot[cY] coordinates {(-0.62,0) (-0.38,0.04) (-0.21,0.08) (-0.07,0.14) (0,0.21) (0.07,0.34) (0.18,0.46) (0.26,0.56) (0.31,0.59) (0.37,0.61) (0.44,0.44) (0.52,0.24) (0.61,0.08) (0.73,0.03) (0.9,0.01)};
\addplot[cR] coordinates {(-0.62,0) (-0.38,0.05) (-0.14,0.09) (0.04,0.14) (0.18,0.24) (0.28,0.29) (0.38,0.41) (0.49,0.49) (0.56,0.48) (0.61,0.41) (0.66,0.29) (0.73,0.14) (0.82,0.05) (0.9,0.01)};
\addplot[cO] coordinates {(-0.62,0) (-0.31,0.06) (-0.07,0.09) (0.11,0.11) (0.25,0.20) (0.38,0.28) (0.49,0.36) (0.59,0.44) (0.65,0.46) (0.71,0.39) (0.78,0.21) (0.87,0.06) (0.96,0.01)};
\addplot[cG] coordinates {(-0.62,0) (-0.31,0.04) (-0.07,0.09) (0.14,0.13) (0.28,0.19) (0.38,0.31) (0.47,0.46) (0.54,0.56) (0.61,0.61) (0.66,0.56) (0.73,0.36) (0.80,0.19) (0.87,0.06) (0.98,0.01)};
\addplot[cP] coordinates {(-0.59,0) (-0.28,0.04) (-0.03,0.09) (0.18,0.13) (0.31,0.19) (0.42,0.31) (0.51,0.46) (0.58,0.56) (0.65,0.60) (0.71,0.49) (0.78,0.26) (0.85,0.09) (0.94,0.01)};
\addplot[cB] coordinates {(-0.55,0) (-0.28,0.04) (-0.03,0.08) (0.18,0.11) (0.31,0.16) (0.44,0.26) (0.52,0.39) (0.61,0.49) (0.68,0.56) (0.73,0.51) (0.78,0.34) (0.85,0.14) (0.92,0.04) (0.99,0.01)};
\addplot[K] coordinates {(-0.62,0) (-0.38,0.04) (-0.21,0.08) (-0.07,0.11) (0.02,0.15) (0.11,0.24) (0.18,0.31) (0.25,0.44) (0.31,0.56) (0.38,0.73) (0.42,0.69) (0.47,0.54) (0.52,0.29) (0.58,0.11) (0.66,0.04) (0.8,0.02) (0.97,0.01)};
\end{axis}
\begin{axis}[panel, wb, yt, bottomB, at={(350pt,-334.15pt)}]
\addplot[cB] coordinates {(-0.65,0) (-0.55,0.06) (-0.41,0.18) (-0.31,0.26) (-0.20,0.34) (-0.10,0.45) (-0.03,0.48) (0.04,0.46) (0.11,0.39) (0.18,0.29) (0.28,0.16) (0.39,0.08) (0.56,0.04) (0.77,0.01) (1,0)};
\addplot[cM] coordinates {(-0.55,0) (-0.41,0.11) (-0.27,0.24) (-0.17,0.34) (-0.08,0.44) (0.01,0.48) (0.08,0.44) (0.16,0.34) (0.25,0.19) (0.35,0.09) (0.49,0.04) (0.63,0.01)};
\addplot[cO] coordinates {(-0.55,0) (-0.38,0.10) (-0.24,0.26) (-0.13,0.39) (-0.06,0.48) (0.02,0.51) (0.11,0.46) (0.20,0.31) (0.28,0.16) (0.39,0.06) (0.56,0.02) (0.8,0)};
\addplot[cR] coordinates {(-0.55,0) (-0.41,0.09) (-0.27,0.24) (-0.17,0.41) (-0.10,0.53) (-0.01,0.55) (0.08,0.49) (0.16,0.34) (0.25,0.19) (0.35,0.09) (0.5,0.03) (0.91,0.01) (1,0)};
\addplot[cY] coordinates {(-0.52,0) (-0.38,0.09) (-0.24,0.26) (-0.13,0.49) (-0.06,0.60) (0.01,0.56) (0.09,0.44) (0.18,0.26) (0.28,0.11) (0.39,0.04) (0.55,0.01)};
\addplot[cP] coordinates {(-0.50,0) (-0.41,0.05) (-0.31,0.16) (-0.22,0.34) (-0.13,0.56) (-0.06,0.67) (0.01,0.63) (0.08,0.49) (0.16,0.29) (0.25,0.11) (0.39,0.03) (0.55,0)};
\addplot[cG] coordinates {(-0.48,0) (-0.34,0.05) (-0.25,0.21) (-0.17,0.41) (-0.10,0.65) (-0.02,0.76) (0.04,0.71) (0.13,0.49) (0.22,0.21) (0.30,0.08) (0.39,0.03) (0.55,0)};
\addplot[K] coordinates {(-0.50,0) (-0.38,0.06) (-0.27,0.24) (-0.18,0.44) (-0.11,0.63) (-0.04,0.75) (0.02,0.71) (0.11,0.49) (0.18,0.24) (0.25,0.09) (0.39,0.02) (0.55,0)};
\end{axis}
\end{tikzpicture}
\end{document}
